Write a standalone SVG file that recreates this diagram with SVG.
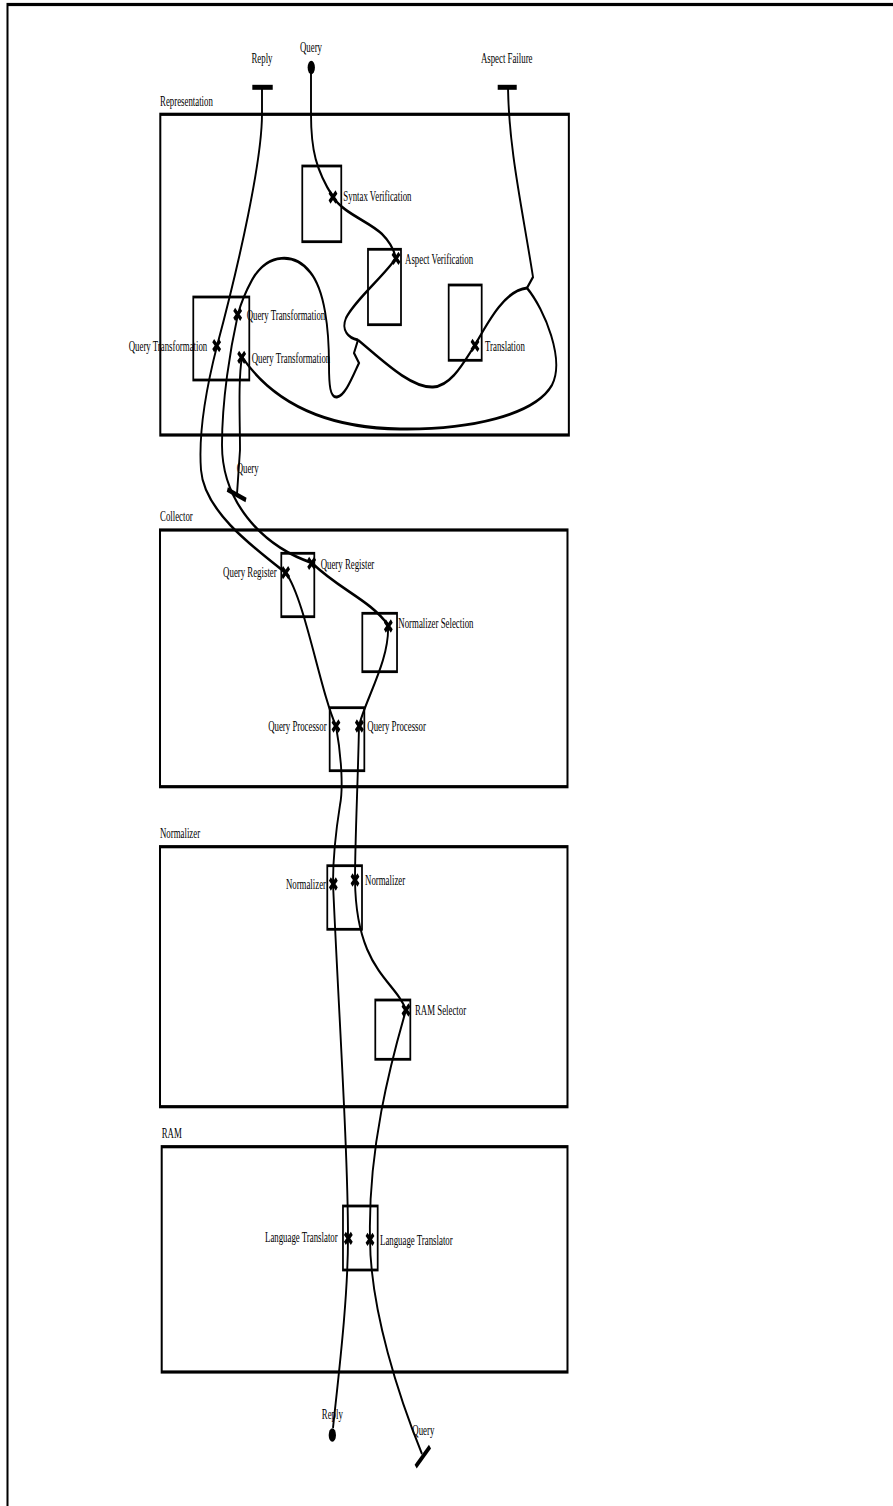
<svg xmlns="http://www.w3.org/2000/svg" xmlns:xlink="http://www.w3.org/1999/xlink" width="893" height="1506" viewBox="0 0 893 1506">
<style>
.comp{fill:none;stroke:#000;stroke-width:3.2}
.sub{fill:none;stroke:#000;stroke-width:2.8}
.path{fill:none;stroke:#000;stroke-width:3;stroke-linejoin:miter}
.bar{stroke:#000;stroke-width:5;fill:none}
.xm{stroke:#000;stroke-width:4.4;fill:none}
text{font-family:"Liberation Serif","Times New Roman",serif;font-size:14px;fill:#000}
.e{text-anchor:end}
.m{text-anchor:middle}
</style>
<defs>
<path id="xm" class="xm" d="M-5.5,-5 L5.5,5 M-5.5,5 L5.5,-5"/>
</defs>
<rect width="893" height="1506" fill="#fff"/>
<g transform="scale(0.63 1)">
<rect id="frame" x="11.9" y="4.5" width="2000" height="2000" class="comp"/>

<g id="connectors">
<path class="path" d="M493.65,73 L493.65,114 C493.65,150 501.59,170 528.57,197 C544.44,213 587.3,222 606.35,234 C619.05,242 625.4,250 628.57,258"/>
<path class="path" d="M628.57,258 C611.11,275 563.49,300 549.21,318 C541.27,330 552.38,338 568.25,340"/>
<path class="path" d="M568.25,340 C603.17,358 650.79,388 687.3,387 C717.46,386 738.1,360 753.97,345 C774.6,322 801.59,290 836.51,288"/>
<path class="path" d="M568.25,340 L561.9,353 L569.84,363 C558.73,378 547.62,396 534.92,397 C523.81,398 522.22,385 522.22,365 C522.22,330 515.87,290 492.06,272 C468.25,253 425.4,252 400,280 C390.48,291 382.54,303 377.78,314"/>
<path class="path" d="M806.35,88 C808,150 828,205 846.03,277 L836.51,288"/>
<path class="path" d="M836.51,288 C865.08,310 896.83,360 876.19,385 C849.21,415 746.03,430 634.92,429 C523.81,428 436.51,405 384.13,357"/>
<path class="path" d="M415.87,88 L415.87,114 C415.87,160 380.95,260 344.44,346 C328.57,385 314.29,430 319.05,470 C323.81,510 396.83,545 453.97,573 C484.13,600 507.94,690 533.33,726 C542.86,760 544.44,790 539.68,805 C533.33,830 528.57,860 528.57,883 C536.51,1000 552.38,1150 552.38,1238 C552.38,1300 536.51,1380 528.57,1428"/>
<path class="path" d="M377.78,314 C365.08,350 352.38,400 352.38,445 C352.38,500 412.7,545 495.24,563 C539.68,590 587.3,600 615.87,625 C619.05,660 579.37,700 569.84,726 C568.25,780 563.49,840 563.49,880 C565.08,970 626.98,980 644.44,1010 C619.05,1065 584.13,1150 587.3,1238 C587.3,1310 634.92,1400 669.84,1454"/>
<path class="path" d="M384.13,357 C377.78,380 380.95,420 380.95,450 L376.19,494"/>
</g>

<g id="start-query">
<ellipse cx="494.1" cy="67.5" rx="5.8" ry="6.8" fill="#000"/>
<text x="493.7" y="52.5" class="m">Query</text>
</g>
<g id="end-reply">
<line x1="400.5" y1="87.3" x2="432.9" y2="87.3" class="bar"/>
<text x="415.9" y="63" class="m">Reply</text>
</g>
<g id="end-aspect-failure">
<line x1="790" y1="87.3" x2="820.2" y2="87.3" class="bar"/>
<text x="804.3" y="63" class="m">Aspect Failure</text>
</g>
<g id="end-query-mid">
<line x1="360.8" y1="489.5" x2="390.5" y2="500" class="bar"/>
<text x="375.7" y="473.3">Query</text>
</g>
<g id="start-reply">
<ellipse cx="527.5" cy="1435" rx="5.8" ry="6.8" fill="#000"/>
<text x="527.5" y="1419.3" class="m">Reply</text>
</g>
<g id="end-query-bottom">
<line x1="659.8" y1="1466.7" x2="682.5" y2="1446.7" class="bar"/>
<text x="654.5" y="1435">Query</text>
</g>

<g id="representation">
<rect x="254.44" y="114.3" width="648.5" height="320.7" class="comp"/>
<text x="254" y="106">Representation</text>
</g>
<g id="syntax-verification">
<rect x="479.8" y="166" width="61.9" height="75.7" class="sub"/>
<use xlink:href="#xm" x="528.57" y="197"/>
<text x="545" y="200.7">Syntax Verification</text>
</g>
<g id="aspect-verification">
<rect x="584.1" y="249.3" width="52.4" height="75.4" class="sub"/>
<use xlink:href="#xm" x="628.57" y="258.3"/>
<text x="642.9" y="264.3">Aspect Verification</text>
</g>
<g id="translation">
<rect x="712.2" y="285" width="52.4" height="75.3" class="sub"/>
<use xlink:href="#xm" x="753.97" y="345.3"/>
<text x="769.8" y="351">Translation</text>
</g>
<g id="query-transformation">
<rect x="306.8" y="297" width="88.9" height="83" class="sub"/>
<use xlink:href="#xm" x="377.25" y="314.3"/>
<text x="391.5" y="320">Query Transformation</text>
<use xlink:href="#xm" x="343.9" y="345.7"/>
<text x="329" y="351" class="e">Query Transformation</text>
<use xlink:href="#xm" x="383.6" y="357.3"/>
<text x="399.5" y="362.7">Query Transformation</text>
</g>

<g id="collector">
<rect x="253.97" y="530" width="646.8" height="256.7" class="comp"/>
<text x="254" y="521">Collector</text>
</g>
<g id="query-register">
<rect x="446.5" y="553.3" width="52.4" height="63.4" class="sub"/>
<use xlink:href="#xm" x="453.4" y="572.7"/>
<text x="439.2" y="576.7" class="e">Query Register</text>
<use xlink:href="#xm" x="494.7" y="563.3"/>
<text x="509" y="569">Query Register</text>
</g>
<g id="normalizer-selection">
<rect x="575.1" y="613.3" width="55.1" height="58.4" class="sub"/>
<use xlink:href="#xm" x="616.4" y="626"/>
<text x="632.3" y="628.3">Normalizer Selection</text>
</g>
<g id="query-processor">
<rect x="523.3" y="707.7" width="55" height="63" class="sub"/>
<use xlink:href="#xm" x="533.3" y="726"/>
<text x="518.5" y="731" class="e">Query Processor</text>
<use xlink:href="#xm" x="570.4" y="726"/>
<text x="583.1" y="731">Query Processor</text>
</g>

<g id="normalizer-comp">
<rect x="253.97" y="846.7" width="646.8" height="260" class="comp"/>
<text x="254" y="838.3">Normalizer</text>
</g>
<g id="normalizer">
<rect x="519.5" y="865.7" width="55.1" height="63.6" class="sub"/>
<use xlink:href="#xm" x="529.1" y="884"/>
<text x="517.5" y="889.3" class="e">Normalizer</text>
<use xlink:href="#xm" x="563.5" y="880"/>
<text x="579.4" y="885">Normalizer</text>
</g>
<g id="ram-selector">
<rect x="595.7" y="1000" width="55.6" height="59.3" class="sub"/>
<use xlink:href="#xm" x="644.4" y="1010"/>
<text x="658.7" y="1015">RAM Selector</text>
</g>

<g id="ram">
<rect x="256.67" y="1146.7" width="644.1" height="225.3" class="comp"/>
<text x="256.6" y="1138.3">RAM</text>
</g>
<g id="language-translator">
<rect x="544.4" y="1206" width="55.1" height="64" class="sub"/>
<use xlink:href="#xm" x="552.9" y="1238.3"/>
<text x="536" y="1241.7" class="e">Language Translator</text>
<use xlink:href="#xm" x="587.3" y="1239.3"/>
<text x="603.2" y="1245">Language Translator</text>
</g>
</g>
</svg>
